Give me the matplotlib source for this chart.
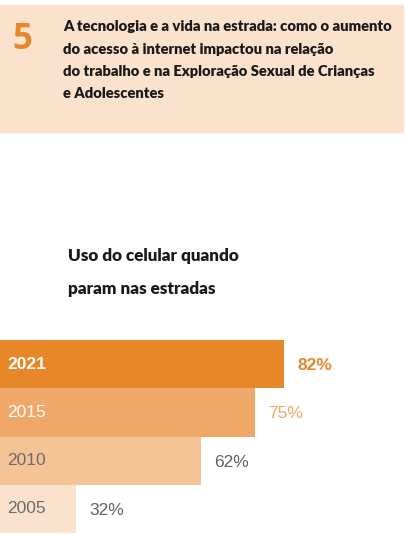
import matplotlib.pyplot as plt
from matplotlib.patches import Rectangle

years = ["2021", "2015", "2010", "2005"]
values = [82, 75, 62, 32]
bar_colors = ["#E8862A", "#EFA867", "#F4C496", "#FBE2CD"]
year_colors = ["white", "white", "#6b6b6b", "#6b6b6b"]
value_colors = ["#E8862A", "#EFA867", "#5f6060", "#5f6060"]
bold = [True, False, False, False]

header_num = "5"
header_lines = [
    "A tecnologia e a vida na estrada: como o aumento",
    "do acesso à internet impactou na relação",
    "do trabalho e na Exploração Sexual de Crianças",
    "e Adolescentes",
]
subtitle = ["Uso do celular quando", "param nas estradas"]

W, H = 406, 535
fig = plt.figure(figsize=(W / 100, H / 100), dpi=100)
fig.patch.set_facecolor("white")

head_font = ["Lato", "DejaVu Sans"]
num_font = ["Liberation Sans", "DejaVu Sans"]

# header band
fig.patches.append(Rectangle((0, 1 - 132 / H), 403 / W, 127 / H,
                             transform=fig.transFigure, color="#FBE2CD", zorder=0))
fig.text(12 / W, 1 - 40 / H, header_num, color="#E8862A", fontsize=25,
         fontweight="bold", family=["Open Sans", "DejaVu Sans"], va="center", ha="left")
for i, line in enumerate(header_lines):
    fig.text(63 / W, 1 - (26.5 + 22.5 * i) / H, line, fontsize=10.6, fontweight="heavy",
             family=head_font, color="#1a1a1a", va="center", ha="left")

for i, line in enumerate(subtitle):
    fig.text(68 / W, 1 - (256 + 33 * i) / H, line, fontsize=12.3, fontweight="heavy",
             family=head_font, color="#1a1a1a", va="center", ha="left")

# bars
ax = fig.add_axes([0, 2 / H, 1, 193 / H])
pos = list(range(len(years)))
ax.barh(pos, values, height=1.0, color=bar_colors, left=0)
ax.set_xlim(13.6, 111.4)
ax.set_ylim(len(years) - 0.5, -0.5)
ax.axis("off")

for i, (y, v) in enumerate(zip(years, values)):
    w = "bold" if bold[i] else "normal"
    ax.annotate(y, (13.6, i), xytext=(5, 0), textcoords="offset points",
                ha="left", va="center", color=year_colors[i], fontsize=12.5,
                fontweight=w, family=num_font)
    ax.annotate(f"{v}%", (v, i), xytext=(9.5, -1), textcoords="offset points",
                ha="left", va="center", color=value_colors[i], fontsize=12.5,
                fontweight=w, family=num_font)

fig.savefig("out.png", dpi=100)
